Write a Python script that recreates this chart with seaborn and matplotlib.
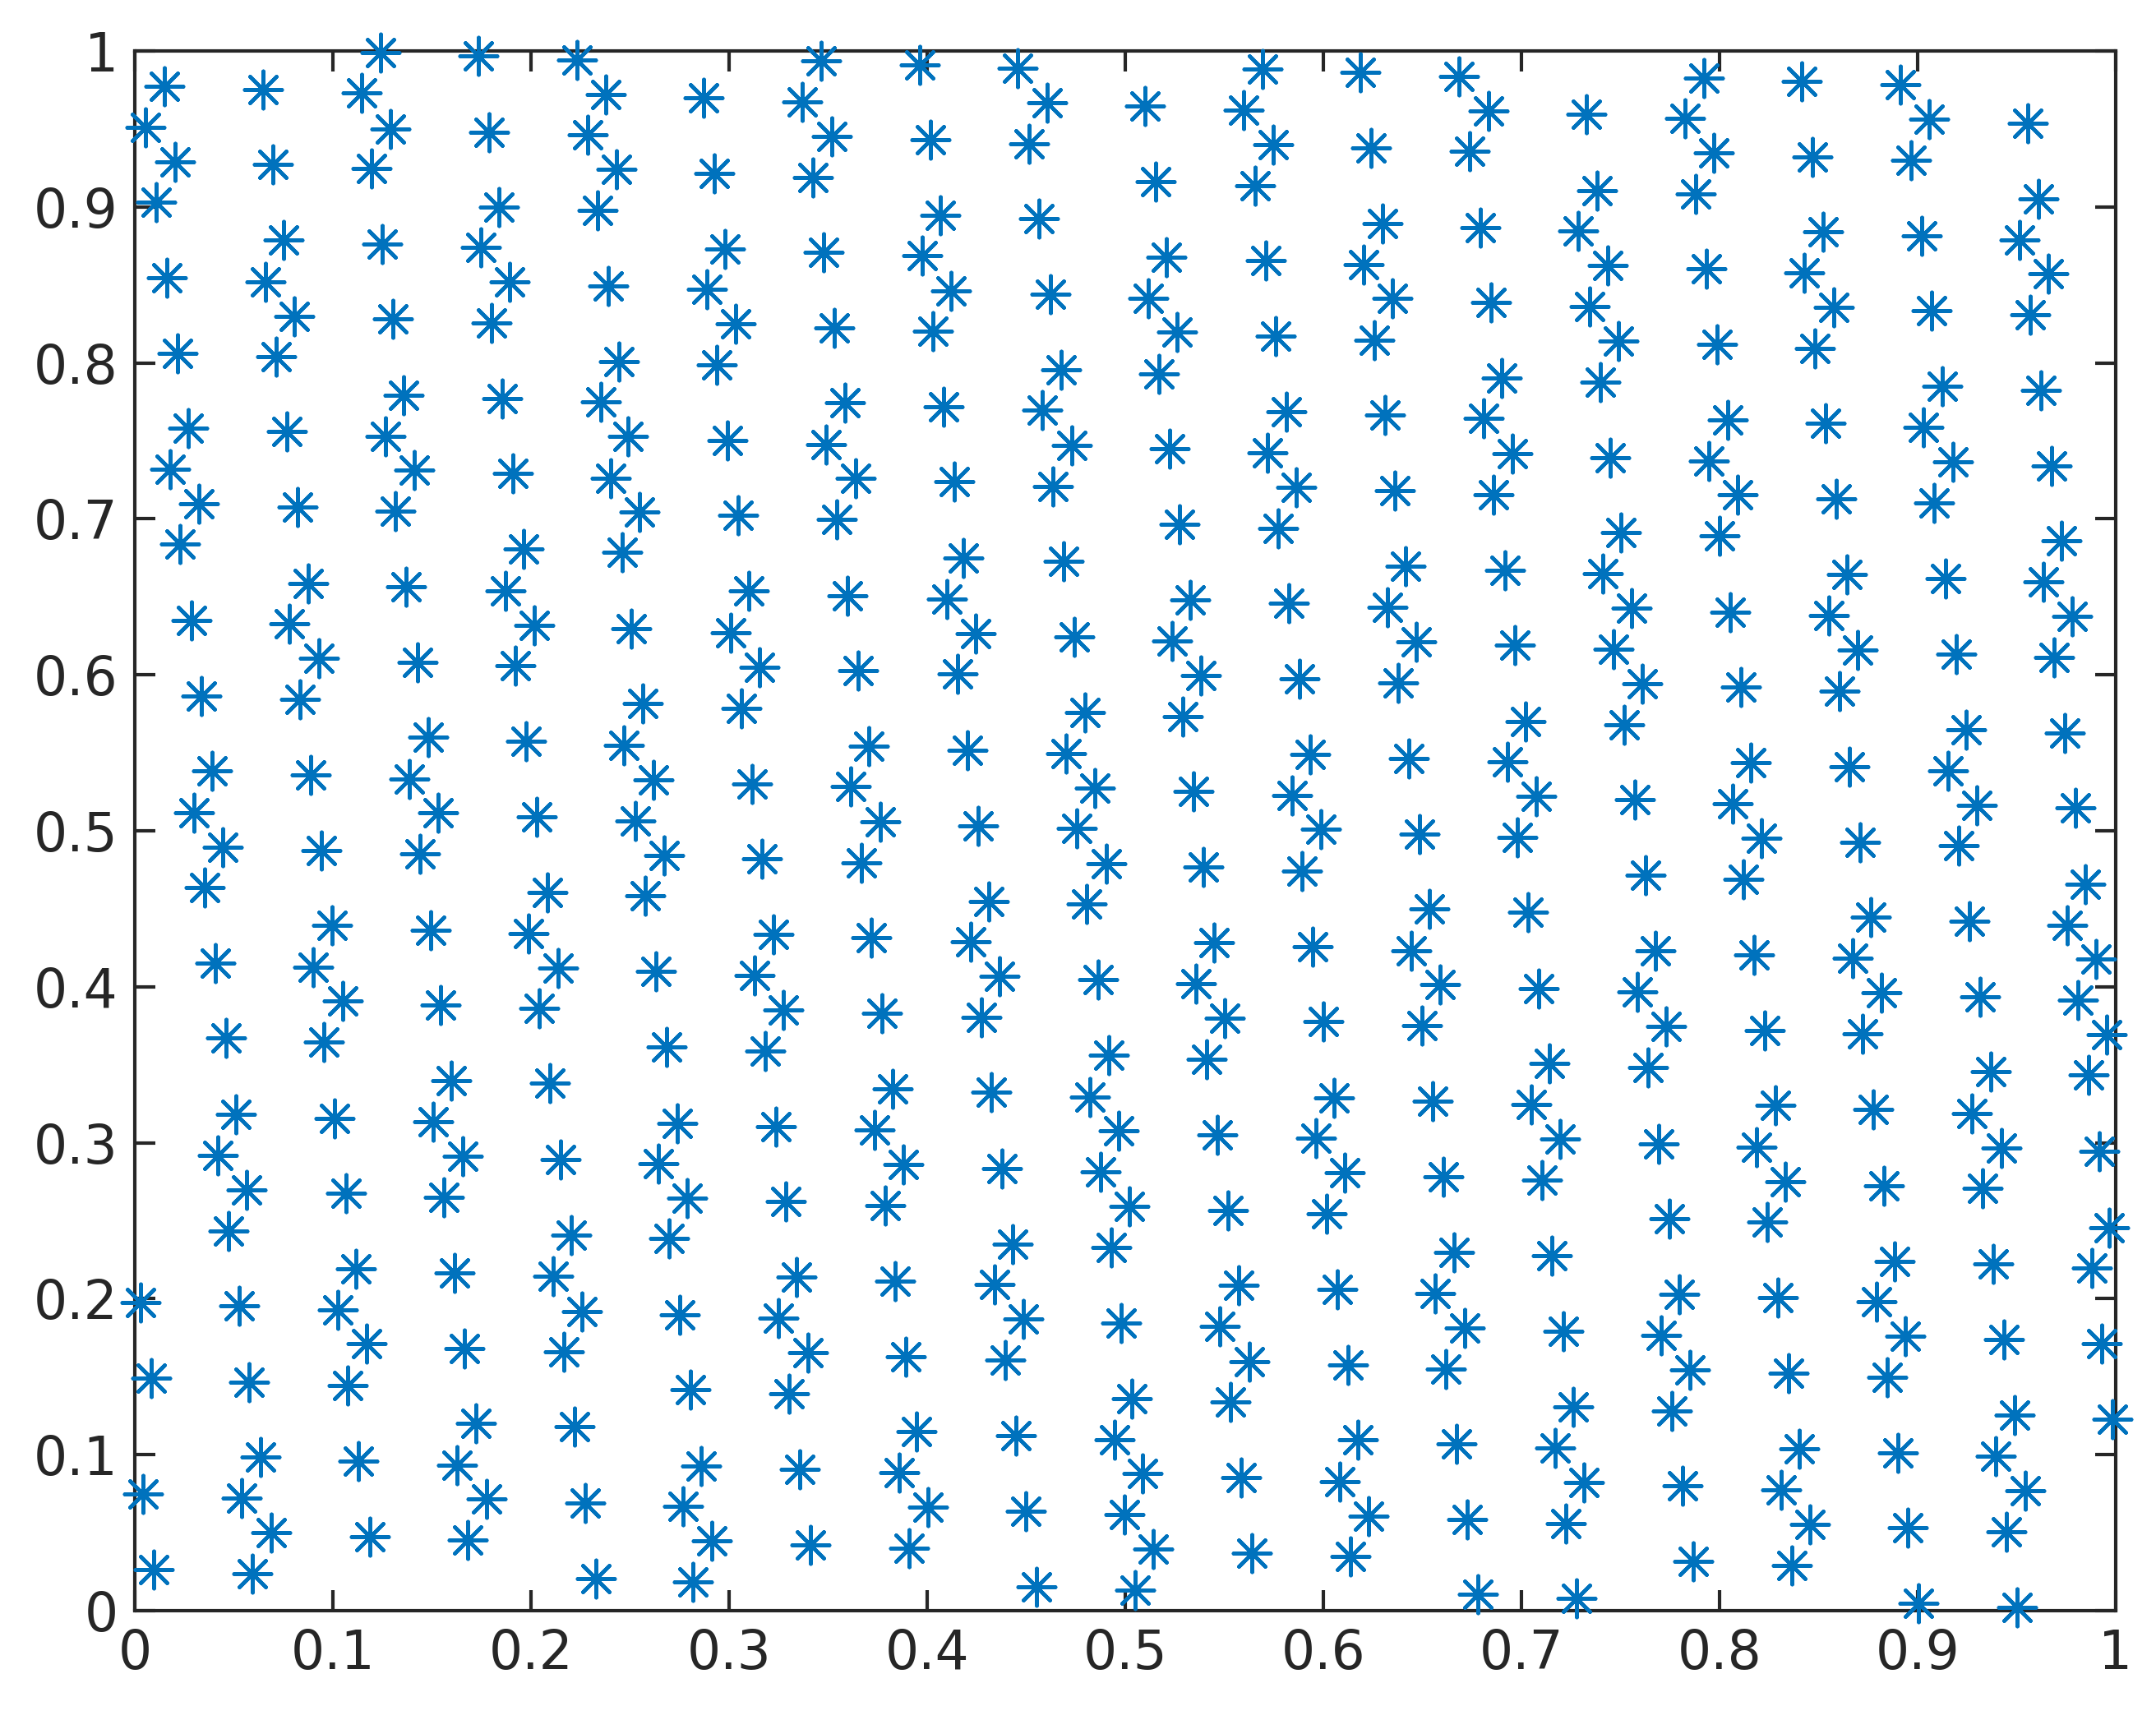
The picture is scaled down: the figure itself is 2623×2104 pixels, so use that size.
import matplotlib
matplotlib.use("Agg")
import matplotlib.pyplot as plt
import seaborn as sns
import pandas as pd

# ---- data (three horizontal bands) ----
top_x = [0.0149, 0.0644, 0.1237, 0.1734, 0.2231, 0.1142, 0.2376, 0.0054, 0.1288, 0.1786,
         0.2283, 0.0200, 0.0697, 0.1195, 0.2430, 0.0108, 0.1837, 0.2336, 0.0751, 0.1249,
         0.1746, 0.0161, 0.0659, 0.1892, 0.2390, 0.0805, 0.1300, 0.1800, 0.0214, 0.0712,
         0.2444, 0.1356, 0.1854, 0.2353, 0.0268, 0.0764, 0.1263, 0.2490, 0.0175, 0.1410,
         0.0322, 0.0819, 0.1315, 0.1907, 0.2400, 0.2547, 0.0227, 0.1960, 0.2458,
         0.2871, 0.3462, 0.3961, 0.4457, 0.3368, 0.4606, 0.3516, 0.4015, 0.4513, 0.2924,
         0.3421, 0.4066, 0.4565, 0.2976, 0.3475, 0.3975, 0.2885, 0.4121, 0.4620, 0.3031,
         0.3530, 0.4027, 0.2937, 0.4674, 0.3584, 0.4081, 0.4579, 0.2992, 0.3489, 0.4728,
         0.3638, 0.4136, 0.4632, 0.3046, 0.3542, 0.4180, 0.4686,
         0.5098, 0.5692, 0.6188, 0.6685, 0.5598, 0.6834, 0.7329, 0.5746, 0.6242, 0.6739,
         0.5154, 0.5653, 0.7383, 0.6297, 0.6793, 0.7288, 0.5208, 0.5707, 0.6202, 0.7437,
         0.5114, 0.6349, 0.6847, 0.7344, 0.5261, 0.5759, 0.6256, 0.7488, 0.5168, 0.6900,
         0.7398, 0.5812, 0.6310, 0.6807, 0.5222, 0.5717, 0.6953, 0.7449, 0.5864, 0.6361,
         0.6859, 0.5275, 0.5771, 0.7503,
         0.7920, 0.8415, 0.8913, 0.7825, 0.9058, 0.9555, 0.7970, 0.8468, 0.8965, 0.7880,
         0.9609, 0.8522, 0.9019, 0.9515, 0.7934, 0.8429, 0.9661, 0.8576, 0.9072, 0.9569,
         0.7986, 0.8482, 0.9126, 0.9621, 0.8040, 0.8534, 0.9031, 0.7944, 0.9180, 0.9675,
         0.8092, 0.8588, 0.9085, 0.8000, 0.9728]
top_y = [0.9774, 0.9752, 0.9991, 0.9969, 0.9940, 0.9730, 0.9720, 0.9510, 0.9500, 0.9480,
         0.9460, 0.9290, 0.9270, 0.9246, 0.9240, 0.9030, 0.9000, 0.8976, 0.8785, 0.8760,
         0.8740, 0.8546, 0.8520, 0.8520, 0.8490, 0.8300, 0.8280, 0.8254, 0.8060, 0.8040,
         0.8010, 0.7794, 0.7770, 0.7748, 0.7580, 0.7558, 0.7530, 0.7530, 0.7320, 0.7310,
         0.7097, 0.7075, 0.7050, 0.7290, 0.7260, 0.7044, 0.6836, 0.6805, 0.6785,
         0.9697, 0.9938, 0.9912, 0.9889, 0.9673, 0.9668, 0.9454, 0.9429, 0.9405, 0.9215,
         0.9190, 0.8947, 0.8923, 0.8732, 0.8706, 0.8686, 0.8469, 0.8462, 0.8438, 0.8252,
         0.8223, 0.8204, 0.7987, 0.7956, 0.7743, 0.7719, 0.7695, 0.7504, 0.7478, 0.7473,
         0.7259, 0.7237, 0.7208, 0.7022, 0.6996, 0.6750, 0.6728,
         0.9646, 0.9885, 0.9863, 0.9836, 0.9622, 0.9617, 0.9591, 0.9400, 0.9376, 0.9354,
         0.9162, 0.9137, 0.9106, 0.8894, 0.8869, 0.8845, 0.8677, 0.8655, 0.8630, 0.8624,
         0.8416, 0.8412, 0.8385, 0.8363, 0.8195, 0.8170, 0.8146, 0.8142, 0.7931, 0.7903,
         0.7878, 0.7686, 0.7664, 0.7642, 0.7451, 0.7425, 0.7418, 0.7394, 0.7204, 0.7179,
         0.7155, 0.6967, 0.6940, 0.6914,
         0.9827, 0.9805, 0.9781, 0.9566, 0.9562, 0.9538, 0.9345, 0.9321, 0.9296, 0.9082,
         0.9053, 0.8838, 0.8816, 0.8790, 0.8602, 0.8575, 0.8571, 0.8354, 0.8332, 0.8308,
         0.8119, 0.8093, 0.7852, 0.7825, 0.7635, 0.7611, 0.7588, 0.7372, 0.7367, 0.7341,
         0.7153, 0.7128, 0.7104, 0.6889, 0.6861]

mid_x = [0.0873, 0.1369, 0.1868, 0.0283, 0.0780, 0.2014, 0.2503, 0.0927, 0.1424, 0.1920,
         0.0336, 0.0832, 0.2562, 0.1478, 0.1975, 0.2469, 0.0390, 0.0886, 0.1383, 0.2616,
         0.0297, 0.1530, 0.2027, 0.2525, 0.0442, 0.0939, 0.1437, 0.0349, 0.2081, 0.2576,
         0.0993, 0.1492, 0.1988, 0.0403, 0.0900, 0.2136, 0.2628, 0.1047, 0.1544, 0.2042,
         0.0458, 0.0954, 0.1597, 0.2095,
         0.3098, 0.3598, 0.4097, 0.4243, 0.4742, 0.3007, 0.3153, 0.3652, 0.4151, 0.3061,
         0.4796, 0.3706, 0.4204, 0.4701, 0.3115, 0.3611, 0.4847, 0.3761, 0.4256, 0.4755,
         0.2671, 0.3166, 0.3666, 0.4902, 0.4311, 0.4806, 0.3221, 0.3718, 0.4217, 0.3127,
         0.4363, 0.4862, 0.3273, 0.3772, 0.4272, 0.2683, 0.3182, 0.4915,
         0.6415, 0.6915, 0.7412, 0.5327, 0.5825, 0.6324, 0.5237, 0.6470, 0.6968, 0.7463,
         0.5383, 0.5881, 0.6378, 0.5290, 0.7022, 0.5934, 0.6430, 0.6927, 0.5342, 0.5841,
         0.7075, 0.5986, 0.6483, 0.6980, 0.5395, 0.5892, 0.6536, 0.7034, 0.5447, 0.5946,
         0.6444, 0.5356, 0.6590, 0.7088, 0.5502, 0.6000, 0.6498, 0.5410, 0.7142,
         0.8642, 0.9140, 0.9637, 0.7557, 0.8054, 0.8551, 0.9782, 0.8696, 0.9194, 0.9689,
         0.7609, 0.8108, 0.8604, 0.7518, 0.9246, 0.9743, 0.8159, 0.8656, 0.9152, 0.7571,
         0.8066, 0.9300, 0.9798, 0.8213, 0.8709, 0.9206, 0.7625, 0.8120, 0.9846, 0.8763,
         0.9260, 0.9757, 0.7677, 0.8175, 0.8672, 0.9902, 0.7585, 0.8817, 0.9314, 0.9810,
         0.7730, 0.8227, 0.8724, 0.9956, 0.7637, 0.9368, 0.9864]
mid_y = [0.6587, 0.6565, 0.6540, 0.6350, 0.6326, 0.6319, 0.6297, 0.6104, 0.6080, 0.6058,
         0.5865, 0.5843, 0.5814, 0.5600, 0.5573, 0.5550, 0.5382, 0.5358, 0.5333, 0.5329,
         0.5118, 0.5116, 0.5092, 0.5065, 0.4897, 0.4875, 0.4850, 0.4636, 0.4605, 0.4582,
         0.4392, 0.4365, 0.4343, 0.4151, 0.4126, 0.4122, 0.4097, 0.3909, 0.3883, 0.3860,
         0.3670, 0.3648, 0.3400, 0.3380,
         0.6536, 0.6509, 0.6487, 0.6266, 0.6244, 0.6270, 0.6049, 0.6027, 0.6004, 0.5787,
         0.5759, 0.5544, 0.5517, 0.5495, 0.5302, 0.5282, 0.5274, 0.5059, 0.5034, 0.5014,
         0.4844, 0.4820, 0.4797, 0.4788, 0.4549, 0.4529, 0.4337, 0.4314, 0.4288, 0.4073,
         0.4069, 0.4044, 0.3854, 0.3829, 0.3805, 0.3612, 0.3590, 0.3561,
         0.6698, 0.6671, 0.6647, 0.6481, 0.6458, 0.6434, 0.6219, 0.6213, 0.6188, 0.6166,
         0.5998, 0.5973, 0.5949, 0.5734, 0.5703, 0.5491, 0.5466, 0.5442, 0.5251, 0.5227,
         0.5220, 0.5008, 0.4981, 0.4959, 0.4766, 0.4742, 0.4498, 0.4476, 0.4284, 0.4259,
         0.4233, 0.4018, 0.4016, 0.3989, 0.3798, 0.3776, 0.3752, 0.3537, 0.3508,
         0.6642, 0.6618, 0.6594, 0.6425, 0.6403, 0.6379, 0.6374, 0.6159, 0.6135, 0.6111,
         0.5945, 0.5920, 0.5898, 0.5681, 0.5650, 0.5626, 0.5435, 0.5413, 0.5387, 0.5198,
         0.5172, 0.5165, 0.5145, 0.4950, 0.4928, 0.4904, 0.4713, 0.4689, 0.4658, 0.4445,
         0.4419, 0.4396, 0.4230, 0.4206, 0.4182, 0.4177, 0.3967, 0.3960, 0.3936, 0.3914,
         0.3745, 0.3721, 0.3699, 0.3692, 0.3484, 0.3457, 0.3435]

bot_x = [0.0510, 0.1008, 0.1503, 0.0417, 0.1653, 0.2149, 0.0564, 0.1063, 0.1559, 0.0471,
         0.2203, 0.1115, 0.1614, 0.2110, 0.0027, 0.0525, 0.1022, 0.2254, 0.1168, 0.1664,
         0.2163, 0.0080, 0.0576, 0.1075, 0.1719, 0.2217, 0.0631, 0.1129, 0.1627, 0.0041,
         0.0539, 0.1773, 0.2271, 0.0685, 0.1183, 0.1680, 0.0095, 0.0592, 0.2325,
         0.3825, 0.4324, 0.4822, 0.2737, 0.3234, 0.3732, 0.4966, 0.2643, 0.3879, 0.4377,
         0.4876, 0.2789, 0.3287, 0.3786, 0.5020, 0.2696, 0.4431, 0.4929, 0.3341, 0.3839,
         0.4338, 0.2749, 0.3248, 0.4486, 0.4980, 0.3396, 0.3893, 0.4392, 0.2803, 0.3302,
         0.5034, 0.3947, 0.4447, 0.4946, 0.2857, 0.3357, 0.3856, 0.5088, 0.2765, 0.4002,
         0.4499, 0.4995, 0.2912, 0.3411, 0.3908, 0.2818, 0.4552, 0.5047,
         0.6054, 0.6551, 0.7049, 0.5463, 0.5961, 0.7195, 0.6108, 0.6605, 0.7102, 0.5517,
         0.6014, 0.6658, 0.7154, 0.5571, 0.6068, 0.6564, 0.5476, 0.6712, 0.7210, 0.5624,
         0.6122, 0.6619, 0.5530, 0.7263, 0.6175, 0.6671, 0.7169, 0.5585, 0.6081, 0.7315,
         0.6229, 0.6725, 0.7224, 0.5141, 0.5637, 0.6136, 0.6780, 0.7276,
         0.8281, 0.8777, 0.9274, 0.7691, 0.8187, 0.9422, 0.9918, 0.8333, 0.8831, 0.9326,
         0.7745, 0.8241, 0.9969, 0.8883, 0.9380, 0.9878, 0.7798, 0.8295, 0.8792, 0.7705,
         0.8937, 0.9435, 0.9930, 0.7852, 0.8347, 0.8845, 0.7759, 0.9489, 0.9983, 0.8401,
         0.8899, 0.9396, 0.7812, 0.8309, 0.9543, 0.8457, 0.8951, 0.9449, 0.7866, 0.8363,
         0.9005, 0.9501]
bot_y = [0.3183, 0.3158, 0.3136, 0.2919, 0.2915, 0.2893, 0.2700, 0.2676, 0.2651, 0.2436,
         0.2408, 0.2193, 0.2168, 0.2144, 0.1976, 0.1953, 0.1927, 0.1920, 0.1710, 0.1683,
         0.1659, 0.1493, 0.1466, 0.1444, 0.1200, 0.1178, 0.0986, 0.0961, 0.0935, 0.0746,
         0.0722, 0.0718, 0.0691, 0.0503, 0.0476, 0.0454, 0.0264, 0.0239, 0.0208,
         0.3344, 0.3322, 0.3293, 0.3127, 0.3105, 0.3083, 0.3076, 0.2866, 0.2862, 0.2835,
         0.2813, 0.2645, 0.2622, 0.2596, 0.2591, 0.2385, 0.2352, 0.2330, 0.2140, 0.2113,
         0.2091, 0.1898, 0.1876, 0.1869, 0.1845, 0.1655, 0.1628, 0.1606, 0.1415, 0.1393,
         0.1360, 0.1148, 0.1123, 0.1096, 0.0930, 0.0908, 0.0884, 0.0879, 0.0669, 0.0664,
         0.0638, 0.0616, 0.0447, 0.0423, 0.0399, 0.0186, 0.0155, 0.0133,
         0.3289, 0.3267, 0.3243, 0.3050, 0.3028, 0.3023, 0.2806, 0.2782, 0.2760, 0.2567,
         0.2543, 0.2299, 0.2277, 0.2084, 0.2060, 0.2035, 0.1823, 0.1814, 0.1792, 0.1599,
         0.1577, 0.1550, 0.1338, 0.1309, 0.1094, 0.1068, 0.1043, 0.0855, 0.0828, 0.0824,
         0.0607, 0.0585, 0.0558, 0.0396, 0.0370, 0.0346, 0.0104, 0.0078,
         0.3238, 0.3212, 0.3189, 0.2994, 0.2972, 0.2968, 0.2944, 0.2751, 0.2726, 0.2707,
         0.2514, 0.2492, 0.2458, 0.2241, 0.2221, 0.2197, 0.2031, 0.2007, 0.1982, 0.1767,
         0.1761, 0.1739, 0.1712, 0.1546, 0.1524, 0.1499, 0.1282, 0.1256, 0.1227, 0.1039,
         0.1014, 0.0992, 0.0800, 0.0775, 0.0771, 0.0554, 0.0532, 0.0507, 0.0315, 0.0292,
         0.0049, 0.0022]

tick_values = [0, 0.1, 0.2, 0.3, 0.4, 0.5, 0.6, 0.7, 0.8, 0.9, 1]
tick_labels = ["0", "0.1", "0.2", "0.3", "0.4", "0.5", "0.6", "0.7", "0.8", "0.9", "1"]

df = pd.DataFrame({"x": top_x + mid_x + bot_x, "y": top_y + mid_y + bot_y})

sns.set_theme(style="ticks")
plt.rcParams["font.family"] = ["DejaVu Sans"]

DARK = "#262626"
BLUE = "#0072BD"

fig = plt.figure(figsize=(2623 / 300, 2104 / 300), dpi=300)
ax = fig.add_axes([0.0627, 0.0684, 0.9813 - 0.0627, 0.9706 - 0.0684])

sns.scatterplot(data=df, x="x", y="y", ax=ax, marker=(8, 2, 0), s=118,
                color=BLUE, linewidth=1.1, clip_on=False, zorder=3, legend=False)

ax.set_xlim(0, 1)
ax.set_ylim(0, 1)
ax.set_xticks(tick_values)
ax.set_xticklabels(tick_labels)
ax.set_yticks(tick_values)
ax.set_yticklabels(tick_labels)
ax.set_xlabel("")
ax.set_ylabel("")

for side in ["top", "right", "bottom", "left"]:
    ax.spines[side].set_visible(True)
    ax.spines[side].set_color(DARK)
    ax.spines[side].set_linewidth(1.0)

ax.tick_params(axis="both", which="major", direction="in", length=6, width=1.0,
               color=DARK, labelcolor=DARK, labelsize=15.5,
               top=True, right=True, bottom=True, left=True, pad=5)

fig.savefig("out.png", dpi=300, facecolor="white")
